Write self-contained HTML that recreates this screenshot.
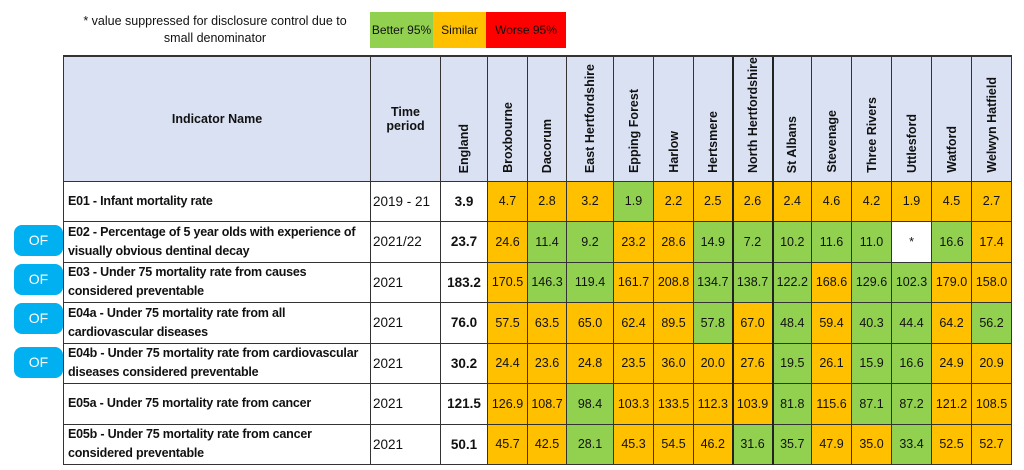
<!DOCTYPE html>
<html><head><meta charset="utf-8"><style>
body{margin:0;width:1024px;height:470px;background:#fff;font-family:"Liberation Sans",sans-serif;position:relative;overflow:hidden;color:#111}
.note{position:absolute;left:75px;top:13px;width:280px;text-align:center;font-size:12.5px;line-height:17px}
.lg{position:absolute;top:12px;height:36px;line-height:36px;font-size:12px;text-align:center;white-space:nowrap;overflow:hidden}
table{position:absolute;left:63px;top:55px;border-collapse:collapse;table-layout:fixed}
td{border:1px solid #333;padding:0;font-size:12.5px;text-align:center;overflow:hidden;white-space:nowrap}
th{border:1px solid #333;border-top:2px solid #333;background:#d9e1f2;font-size:12.5px;font-weight:bold;padding:0}
.v{writing-mode:vertical-rl;transform:rotate(180deg);display:inline-block;text-align:left;white-space:nowrap}
th.r{vertical-align:bottom;padding-bottom:5px}
td.n{text-align:left;font-weight:bold;font-size:12.5px;padding-left:4px;line-height:19px;letter-spacing:-0.2px;white-space:normal}
td.t{text-align:left;padding-left:2px;font-size:13.5px}
td.e{font-weight:bold;font-size:13.5px}
.O{background:#ffc000}.G{background:#92d050}.W{background:#fff}
.of{position:absolute;left:14px;width:49px;height:31px;background:#00b0f0;border-radius:8px;color:#fff;font-size:14px;line-height:31px;text-align:center}
.thick{border-left:2px solid #222}
</style></head><body>
<div class="note">* value suppressed for disclosure control due to small denominator</div>
<div class="lg" style="left:370px;width:63px;background:#92d050">Better 95%</div>
<div class="lg" style="left:433px;width:53px;background:#ffc000">Similar</div>
<div class="lg" style="left:486px;width:80px;background:#ff0000">Worse 95%</div>
<div class="of" style="top:225px">OF</div>
<div class="of" style="top:264px">OF</div>
<div class="of" style="top:303px">OF</div>
<div class="of" style="top:347px">OF</div>
<table>
<colgroup><col style="width:307px"><col style="width:70px"><col style="width:47px"><col style="width:40px"><col style="width:39px"><col style="width:47px"><col style="width:40px"><col style="width:40px"><col style="width:39px"><col style="width:40px"><col style="width:39px"><col style="width:40px"><col style="width:40px"><col style="width:40px"><col style="width:40px"><col style="width:40px"></colgroup>
<tr style="height:125px"><th>Indicator Name</th><th>Time<br>period</th><th class="r"><span class="v">England</span></th><th class="r"><span class="v">Broxbourne</span></th><th class="r"><span class="v">Dacorum</span></th><th class="r"><span class="v">East Hertfordshire</span></th><th class="r"><span class="v">Epping Forest</span></th><th class="r"><span class="v">Harlow</span></th><th class="r"><span class="v">Hertsmere</span></th><th class="r thick"><span class="v">North Hertfordshire</span></th><th class="r thick"><span class="v">St Albans</span></th><th class="r"><span class="v">Stevenage</span></th><th class="r"><span class="v">Three Rivers</span></th><th class="r"><span class="v">Uttlesford</span></th><th class="r"><span class="v">Watford</span></th><th class="r"><span class="v">Welwyn Hatfield</span></th></tr>
<tr style="height:40px"><td class="n">E01 - Infant mortality rate</td><td class="t">2019 - 21</td><td class="e">3.9</td><td class="O">4.7</td><td class="O">2.8</td><td class="O">3.2</td><td class="G">1.9</td><td class="O">2.2</td><td class="O">2.5</td><td class="O thick">2.6</td><td class="O thick">2.4</td><td class="O">4.6</td><td class="O">4.2</td><td class="O">1.9</td><td class="O">4.5</td><td class="O">2.7</td></tr>
<tr style="height:41px"><td class="n">E02 - Percentage of 5 year olds with experience of<br>visually obvious dentinal decay</td><td class="t">2021/22</td><td class="e">23.7</td><td class="O">24.6</td><td class="G">11.4</td><td class="G">9.2</td><td class="O">23.2</td><td class="O">28.6</td><td class="G">14.9</td><td class="G thick">7.2</td><td class="G thick">10.2</td><td class="G">11.6</td><td class="G">11.0</td><td class="W">*</td><td class="G">16.6</td><td class="O">17.4</td></tr>
<tr style="height:40px"><td class="n">E03 - Under 75 mortality rate from causes<br>considered preventable</td><td class="t">2021</td><td class="e">183.2</td><td class="O">170.5</td><td class="G">146.3</td><td class="G">119.4</td><td class="O">161.7</td><td class="O">208.8</td><td class="G">134.7</td><td class="G thick">138.7</td><td class="G thick">122.2</td><td class="O">168.6</td><td class="G">129.6</td><td class="G">102.3</td><td class="O">179.0</td><td class="O">158.0</td></tr>
<tr style="height:41px"><td class="n">E04a - Under 75 mortality rate from all<br>cardiovascular diseases</td><td class="t">2021</td><td class="e">76.0</td><td class="O">57.5</td><td class="O">63.5</td><td class="O">65.0</td><td class="O">62.4</td><td class="O">89.5</td><td class="G">57.8</td><td class="O thick">67.0</td><td class="G thick">48.4</td><td class="O">59.4</td><td class="G">40.3</td><td class="G">44.4</td><td class="O">64.2</td><td class="G">56.2</td></tr>
<tr style="height:40px"><td class="n">E04b - Under 75 mortality rate from cardiovascular<br>diseases considered preventable</td><td class="t">2021</td><td class="e">30.2</td><td class="O">24.4</td><td class="O">23.6</td><td class="O">24.8</td><td class="O">23.5</td><td class="O">36.0</td><td class="O">20.0</td><td class="O thick">27.6</td><td class="G thick">19.5</td><td class="O">26.1</td><td class="G">15.9</td><td class="G">16.6</td><td class="O">24.9</td><td class="O">20.9</td></tr>
<tr style="height:41px"><td class="n">E05a - Under 75 mortality rate from cancer</td><td class="t">2021</td><td class="e">121.5</td><td class="O">126.9</td><td class="O">108.7</td><td class="G">98.4</td><td class="O">103.3</td><td class="O">133.5</td><td class="O">112.3</td><td class="O thick">103.9</td><td class="G thick">81.8</td><td class="O">115.6</td><td class="G">87.1</td><td class="G">87.2</td><td class="O">121.2</td><td class="O">108.5</td></tr>
<tr style="height:40px"><td class="n">E05b - Under 75 mortality rate from cancer<br>considered preventable</td><td class="t">2021</td><td class="e">50.1</td><td class="O">45.7</td><td class="O">42.5</td><td class="G">28.1</td><td class="O">45.3</td><td class="O">54.5</td><td class="O">46.2</td><td class="G thick">31.6</td><td class="G thick">35.7</td><td class="O">47.9</td><td class="O">35.0</td><td class="G">33.4</td><td class="O">52.5</td><td class="O">52.7</td></tr>
</table>
</body></html>
